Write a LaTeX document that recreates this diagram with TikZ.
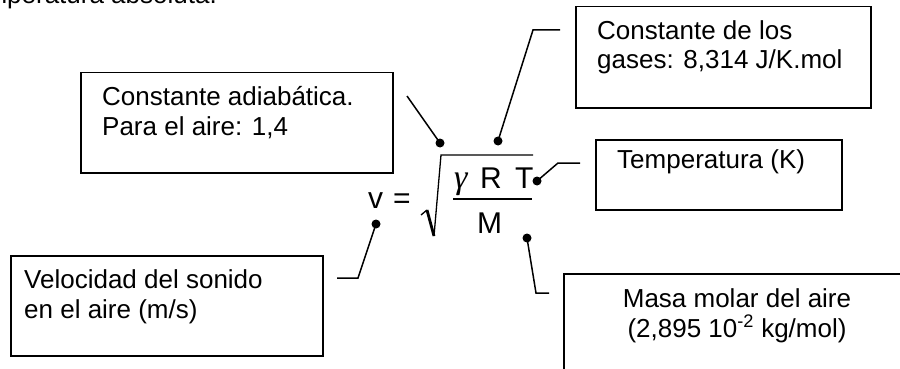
\documentclass[tikz,border=0pt]{standalone}
\usepackage{fontspec}
\setmainfont{Liberation Sans}
\newfontfamily\tnr{Liberation Serif}
\begin{document}
\begin{tikzpicture}[x=1pt,y=-1pt,
  box/.style={draw, line width=1.5pt, inner sep=0pt, anchor=north west},
  lbl/.style={anchor=base west, inner sep=0pt, align=left, font=\fontsize{26}{29.5}\selectfont},
  lblc/.style={anchor=base, inner sep=0pt, align=center, font=\fontsize{26}{29.5}\selectfont},
  eq/.style={anchor=base west, inner sep=0pt, font=\fontsize{30}{36}\selectfont},
  dot/.style={circle, fill, inner sep=0pt, minimum size=9pt},
  conn/.style={line width=1.5pt},
  ]
\useasboundingbox (0,0) rectangle (900,369);
\clip (0,0) rectangle (900,369);

% fragment of text at top
\node[anchor=base east, inner sep=0pt, font=\fontsize{26}{29.5}\selectfont] (toptext) at (217,4) {temperatura absoluta.};

% boxes (multi-line nodes: base anchor = baseline of last line)
\node[box, minimum width=312pt, minimum height=100pt] (adiabB) at (80,72) {};
\node[lbl] (adiabT) at (102,135) {Constante adiabática.\\Para el aire: 1,4};

\node[box, minimum width=295pt, minimum height=101pt] (gasB) at (575,6) {};
\node[lbl] (gasT) at (597,69) {Constante de los\\gases: 8,314 J/K.mol};

\node[box, minimum width=246pt, minimum height=70pt] (tempB) at (595,139) {};
\node[lbl] (tempT) at (617,168) {Temperatura (K)};

\node[box, minimum width=312pt, minimum height=100pt] (velB) at (10,255) {};
\node[lbl] (velT) at (24,318) {Velocidad del sonido\\en el aire (m/s)};

\node[box, minimum width=360pt, minimum height=140pt] (masB) at (563,273) {};
\node[lblc] (masT) at (737,337) {Masa molar del aire\\(2,895 10\textsuperscript{-2} kg/mol)};

% equation
\node[eq] (v) at (368,208) {v};
\node[eq] (eqs) at (393,208) {=};
\node[eq, font=\fontsize{34}{36}\selectfont] (gam) at (454,188) {\tnr\itshape γ};
\node[eq] (R) at (480,188) {R};
\node[eq] (T) at (515,188) {T};
\node[eq] (M) at (477,233) {M};
\draw[line width=1.3pt, line join=miter] (421,215) -- (427,210);
\draw[line width=2.8pt] (427,210) -- (434,236);
\draw[line width=1.3pt, line join=miter] (434,236) -- (441,155) -- (533,155);
\draw[line width=1.5pt] (453,199) -- (532,199);

% dots
\node[dot] (dA) at (440,143) {};
\node[dot] (dG) at (498,141) {};
\node[dot] (dT) at (537,181) {};
\node[dot] (dV) at (376,224) {};
\node[dot] (dM) at (527,238) {};

% connector ends
\coordinate (cA) at (407,96);
\coordinate (cG1) at (533,30);
\coordinate (cG2) at (560,30);
\coordinate (cT1) at (558,163);
\coordinate (cT2) at (580,163);
\coordinate (cV1) at (358,278);
\coordinate (cV2) at (337,278);
\coordinate (cM1) at (536,293);
\coordinate (cM2) at (549,293);

\draw[conn] (dA.center) -- (cA);
\draw[conn] (dG.center) -- (cG1) -- (cG2);
\draw[conn] (dT.center) -- (cT1) -- (cT2);
\draw[conn] (dV.center) -- (cV1) -- (cV2);
\draw[conn] (dM.center) -- (cM1) -- (cM2);
\end{tikzpicture}
\end{document}
